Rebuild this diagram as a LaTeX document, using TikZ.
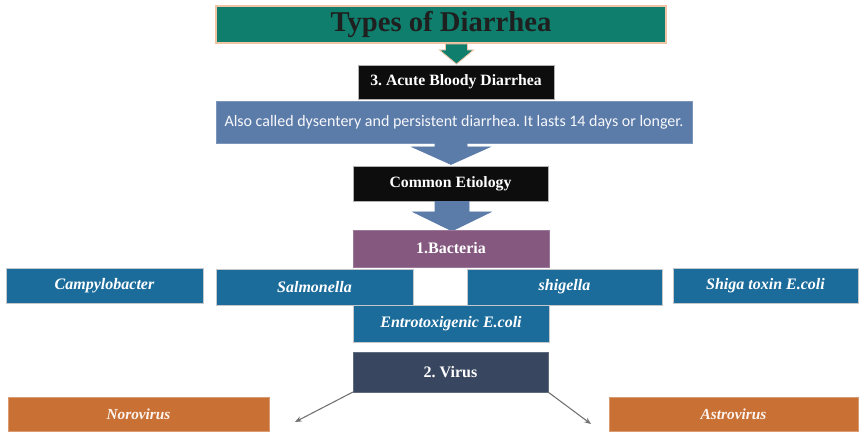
\documentclass[tikz,border=0pt]{standalone}
\usepackage{fontspec}
\setmainfont{Liberation Serif}
\newfontfamily\bodysans{Carlito}
\usetikzlibrary{arrows.meta}
\frenchspacing

\definecolor{titleteal}{HTML}{0F7E6C}
\definecolor{peach}{HTML}{F0C4A4}
\definecolor{slateblue}{HTML}{5B7BA9}
\definecolor{nearblack}{HTML}{0D0D0D}
\definecolor{plum}{HTML}{84587F}
\definecolor{ocean}{HTML}{1B6C9B}
\definecolor{navyslate}{HTML}{384660}
\definecolor{rust}{HTML}{C97034}
\definecolor{edgegray}{HTML}{C4C8CC}
\definecolor{linkgray}{HTML}{707070}

% a downward block arrow: x-centre, top, neck, tip, shaft half-width, head half-width
\newcommand\downblock[7]{%
  \filldraw[#1] (#2-#6,#3) -- (#2+#6,#3) -- (#2+#6,#4) -- (#2+#7,#4)
    -- (#2,#5) -- (#2-#7,#4) -- (#2-#6,#4) -- cycle;}

\begin{document}
\begin{tikzpicture}[x=0.75pt,y=-0.75pt,
  box/.style={rectangle, inner sep=0pt, outer sep=0pt, draw=edgegray,
    line width=0.5pt, text=white, align=center},
  headbox/.style={box, fill=nearblack, draw=gray!60,
    font=\bfseries\fontsize{11.8}{13}\selectfont},
  germ/.style={box, fill=ocean, font=\bfseries\itshape\fontsize{12}{14}\selectfont},
  virusbox/.style={box, fill=rust, draw=rust!70!white, text=white!92!rust,
    font=\bfseries\itshape\fontsize{11.5}{13}\selectfont},
  link/.style={draw=linkgray, line width=0.8pt,
    -{Stealth[length=5pt,width=4pt]}}
]
\useasboundingbox (0,0) rectangle (864,434);
\fill[white] (0,0) rectangle (864,434);

% title banner
\node[box, fill=titleteal, draw=peach, line width=1pt, text=black!88,
  minimum width=450*0.75pt, minimum height=37*0.75pt,
  font=\bfseries\fontsize{21.5}{24}\selectfont] (title) at (441,24.5)
  {\raisebox{-1.5pt}{Types of Diarrhea}};

% teal arrow under the banner
\downblock{fill=titleteal, draw=peach, line width=0.6pt}{456.5}{44}{50}{64}{11}{17}

\node[headbox, minimum width=196*0.75pt, minimum height=34*0.75pt]
  (acute) at (456,82) {3. Acute Bloody Diarrhea};

\node[box, fill=slateblue, draw=slateblue!80!white,
  minimum width=476*0.75pt, minimum height=42*0.75pt,
  font=\bodysans\fontsize{12}{14}\selectfont, text=white!95!slateblue]
  (desc) at (454,122)
  {Also called dysentery and persistent diarrhea. It lasts 14 days or longer.};

% blue arrows down to the etiology
\downblock{fill=slateblue, draw=slateblue}{451}{143.5}{147}{164.5}{16}{39}
\node[headbox, minimum width=195*0.75pt, minimum height=35*0.75pt]
  (etio) at (450.5,183.5) {Common Etiology};
\downblock{fill=slateblue, draw=slateblue}{452}{201.5}{212}{231}{17}{39}

% bacteria
\node[box, fill=plum, draw=plum!80!white,
  minimum width=196*0.75pt, minimum height=37*0.75pt,
  font=\bfseries\fontsize{12}{14}\selectfont] (bact) at (451,248.5) {1.Bacteria};

\node[germ, minimum width=197*0.75pt, minimum height=35*0.75pt]
  (campy) at (104.5,285.5) {Campylobacter};
\node[germ, minimum width=197*0.75pt, minimum height=36*0.75pt]
  (salm) at (314.5,287) {Salmonella};
\node[germ, minimum width=195*0.75pt, minimum height=36*0.75pt]
  (shig) at (564.5,287) {shigella};
\node[germ, minimum width=185*0.75pt, minimum height=35*0.75pt]
  (shiga) at (765.5,285.5) {Shiga toxin E.coli};
\node[germ, minimum width=196*0.75pt, minimum height=37*0.75pt]
  (etec) at (451,323.5) {Entrotoxigenic E.coli};

% viruses
\node[box, fill=navyslate, draw=navyslate!80!white,
  minimum width=195*0.75pt, minimum height=40*0.75pt,
  font=\bfseries\fontsize{12}{14}\selectfont] (virus) at (450.5,372) {2. Virus};

\node[virusbox, minimum width=261*0.75pt, minimum height=34*0.75pt]
  (noro) at (138.5,414) {Norovirus};
\node[virusbox, minimum width=249*0.75pt, minimum height=34*0.75pt]
  (astro) at (733.5,414) {Astrovirus};

\coordinate (noroEnd) at (295,422);
\coordinate (astroEnd) at (591,424);
\draw[link] (virus.south west) -- (noroEnd);
\draw[link] (virus.south east) -- (astroEnd);
\end{tikzpicture}
\end{document}
